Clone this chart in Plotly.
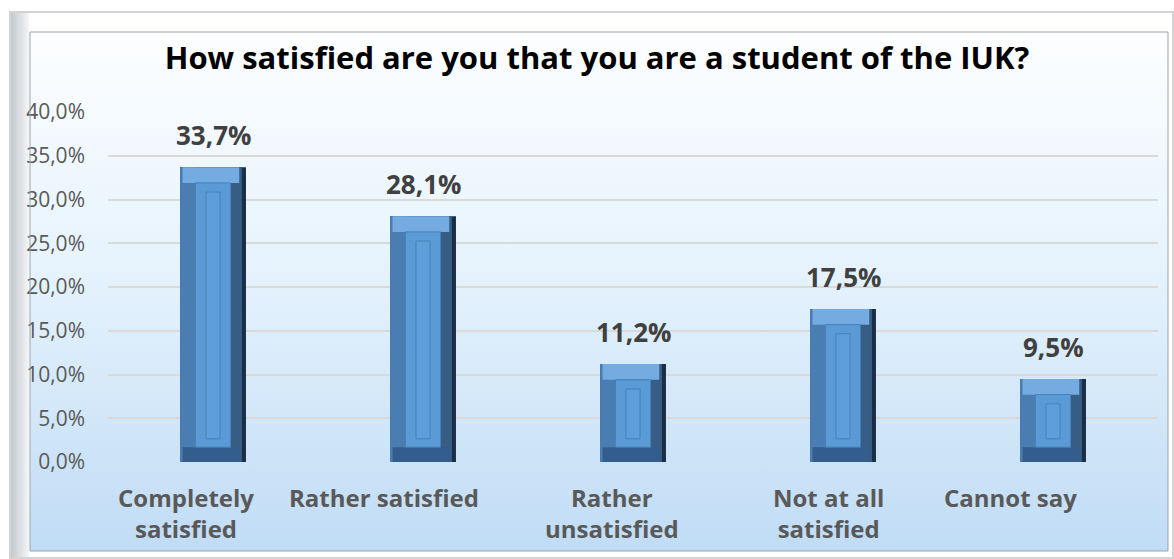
import base64
import plotly.graph_objects as go

# data
categories = ["Completely<br>satisfied", "Rather satisfied", "Rather<br>unsatisfied",
              "Not at all<br>satisfied", "Cannot say"]
values = [33.7, 28.1, 11.2, 17.5, 9.5]
y_ticks = [0, 5, 10, 15, 20, 25, 30, 35, 40]

title = "How satisfied are you that you are a student of the IUK?"
labels = [f"<b>{v:.1f}%</b>".replace(".", ",") for v in values]
tick_text = [f"{t:.1f}%".replace(".", ",") for t in y_ticks]

# the category labels sit a little left of the bars in the original
label_xshift = [-27, -39, -21, -15, -43]

W, H = 1174, 559
L, R, T, B = 108, 16, 112, 97
pw, ph = W - L - R, H - T - B
FONT = "Open Sans"


def px(x):
    return (x - L) / pw


def py(y):
    return (H - B - y) / ph


# background gradient as inline svg
svg = ('<svg xmlns="http://www.w3.org/2000/svg" width="100" height="100" preserveAspectRatio="none">'
       '<defs><linearGradient id="g" x1="0" y1="0" x2="0" y2="1">'
       '<stop offset="0" stop-color="#fdfeff"/><stop offset="0.45" stop-color="#e6f3fd"/>'
       '<stop offset="1" stop-color="#c0dcf5"/></linearGradient></defs>'
       '<rect width="100" height="100" fill="url(#g)"/></svg>')
bg_src = "data:image/svg+xml;base64," + base64.b64encode(svg.encode()).decode()

side = '<svg xmlns="http://www.w3.org/2000/svg" width="100" height="100" preserveAspectRatio="none">' \
       '<defs><linearGradient id="s" x1="0" y1="0" x2="1" y2="0">' \
       '<stop offset="0" stop-color="#c4c9ce"/><stop offset="1" stop-color="#f4f6f8"/>' \
       '</linearGradient></defs><rect width="100" height="100" fill="url(#s)"/></svg>'
side_src = "data:image/svg+xml;base64," + base64.b64encode(side.encode()).decode()

n = len(values)
fig = go.Figure()

# bevelled bars: layers from outer to inner
fig.add_trace(go.Bar(x=categories, y=values, width=0.314, marker_color="#1a2e46",
                     marker_line_width=0, hoverinfo="skip"))
fig.add_trace(go.Bar(x=categories, y=values, width=0.295, offset=-0.157,
                     marker_color="#375d85", marker_line_width=0, hoverinfo="skip"))
fig.add_trace(go.Bar(x=categories, y=values, width=0.0735, offset=-0.157,
                     marker_color="#4a7db2", marker_line_width=0, hoverinfo="skip"))
fig.add_trace(go.Bar(x=categories, y=[1.8] * n, base=[v - 1.8 for v in values],
                     width=0.27, offset=-0.145, marker_color="#74abe0",
                     marker_line_width=0, hoverinfo="skip"))
fig.add_trace(go.Bar(x=categories, y=[1.7] * n, base=[0] * n,
                     width=0.27, offset=-0.145, marker_color="#335d8c",
                     marker_line_width=0, hoverinfo="skip"))
fig.add_trace(go.Bar(x=categories, y=[v - 3.5 for v in values], base=[1.7] * n,
                     width=0.167, marker_color="#5b9bd5", marker_line_color="#4681bb",
                     marker_line_width=1, hoverinfo="skip"))
fig.add_trace(go.Bar(x=categories, y=[v - 5.5 for v in values], base=[2.65] * n,
                     width=0.067, marker_color="#5e9ed9", marker_line_color="#4681bb",
                     marker_line_width=1, hoverinfo="skip"))

annotations = [dict(x=c, y=v, text=t, showarrow=False, yanchor="bottom", yshift=12,
                    font=dict(size=26, color="#404040", family=FONT))
               for c, v, t in zip(categories, values, labels)]
annotations += [dict(x=c, y=0, text="<b>" + c + "</b>", showarrow=False, yanchor="top",
                     yshift=-17, xshift=s, align="center",
                     font=dict(size=24, color="#595959", family=FONT))
                for c, s in zip(categories, label_xshift)]

fig.update_layout(
    width=W, height=H,
    margin=dict(l=L, r=R, t=T, b=B),
    barmode="overlay",
    showlegend=False,
    paper_bgcolor="white",
    plot_bgcolor="rgba(0,0,0,0)",
    font=dict(family=FONT, color="#595959"),
    title=dict(text="<b>" + title + "</b>", x=597 / W, xanchor="center",
               y=1 - 58 / H, yanchor="middle",
               font=dict(size=31, color="#000000", family=FONT)),
    xaxis=dict(showgrid=False, showline=False, ticks="", showticklabels=False),
    yaxis=dict(range=[0, 40], tickvals=y_ticks, ticktext=tick_text,
               showgrid=True, gridcolor="#d9d9d9", gridwidth=2, zeroline=False,
               ticklabelstandoff=22,
               tickfont=dict(size=21, color="#595959", family=FONT)),
    annotations=annotations,
    images=[
        dict(source=bg_src, xref="paper", yref="paper", x=px(30), y=py(32),
             sizex=px(1168) - px(30), sizey=py(32) - py(551),
             sizing="stretch", layer="below", xanchor="left", yanchor="top"),
        dict(source=side_src, xref="paper", yref="paper", x=px(11), y=py(13),
             sizex=px(29) - px(11), sizey=py(13) - py(558),
             sizing="stretch", layer="below", xanchor="left", yanchor="top"),
    ],
    shapes=[
        dict(type="rect", xref="paper", yref="paper", x0=px(10), x1=px(1173), y0=py(558), y1=py(12),
             line=dict(color="#d4d4d4", width=2), layer="below"),
        dict(type="rect", xref="paper", yref="paper", x0=px(30), x1=px(1168), y0=py(551), y1=py(32),
             line=dict(color="#9aa3ab", width=1), layer="above"),
    ],
)

fig.write_html("out.html", config={"displayModeBar": False},
               post_script="document.body.style.margin='0px';")
